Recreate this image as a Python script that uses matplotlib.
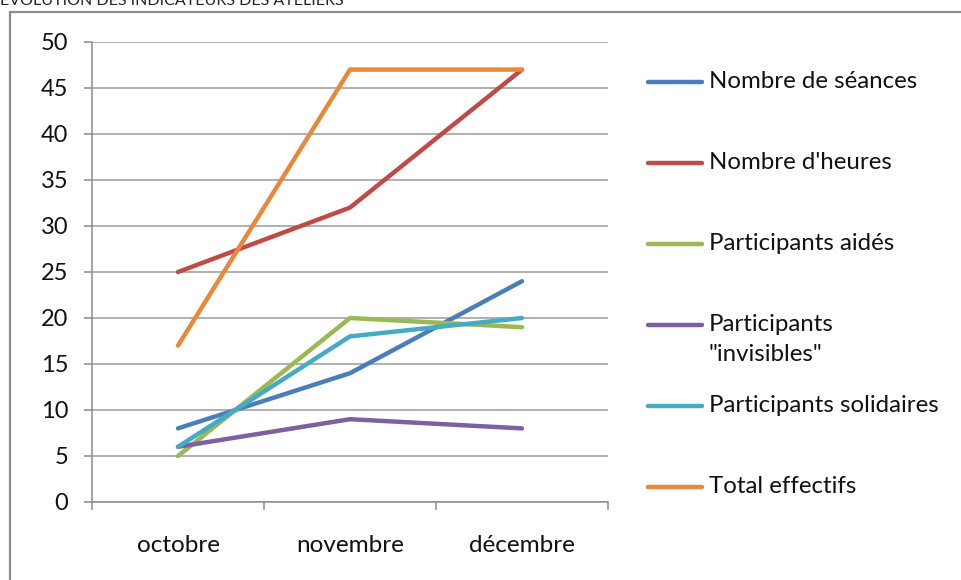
"""Évolution des indicateurs des ateliers - line chart by month."""

import matplotlib

matplotlib.use("Agg")
import matplotlib.pyplot as plt
from matplotlib.lines import Line2D
from matplotlib.patches import Rectangle

months = ["octobre", "novembre", "décembre"]
series_names = [
    "Nombre de séances",
    "Nombre d'heures",
    "Participants aidés",
    "Participants\n\"invisibles\"",
    "Participants solidaires",
    "Total effectifs",
]
seances = [8, 14, 24]
heures = [25, 32, 47]
aides = [5, 20, 19]
invisibles = [6, 9, 8]
solidaires = [6, 18, 20]
total = [17, 47, 47]
series_values = [seances, heures, aides, invisibles, solidaires, total]
colors = ["#4A7EBB", "#BE4B48", "#98B954", "#7D60A0", "#46AAC5", "#E8883A"]

W, H = 961, 580
plt.rcParams["font.family"] = ["Lato", "DejaVu Sans"]

fig = plt.figure(figsize=(W / 100, H / 100), dpi=100, facecolor="white")

# outer chart frame (cut by the screenshot on the right and bottom)
fig.patches.append(Rectangle((10 / W, -0.1), 1.2, 1.1 - 12 / H, transform=fig.transFigure,
                             fill=False, edgecolor="#8c8c8c", linewidth=1.6))
fig.text(0.0, 1 - 5 / H, "ÉVOLUTION DES INDICATEURS DES ATELIERS", fontsize=11.5,
         va="baseline", ha="left", color="#222222")

ax = fig.add_axes([92 / W, 1 - 502 / H, (608 - 92) / W, (502 - 42) / H])
x = range(len(months))
for vals, c in zip(series_values, colors):
    ax.plot(x, vals, color=c, linewidth=3.2, solid_capstyle="round", solid_joinstyle="round",
            zorder=3)

ax.set_xlim(-0.5, len(months) - 0.5)
ax.set_ylim(0, 50)
ax.set_yticks(range(0, 51, 5))
ax.yaxis.grid(True, color="#9a9a9a", linewidth=1.1)
ax.set_axisbelow(True)
ax.set_xticks([i - 0.5 for i in range(len(months) + 1)], minor=False)
ax.set_xticklabels([])
ax.set_xticks(list(x), minor=True)
ax.set_xticklabels(months, minor=True, fontsize=17.5)
ax.tick_params(axis="x", which="minor", length=0, pad=24, colors="#111111")
ax.tick_params(axis="x", which="major", length=6, color="#8c8c8c", width=1.1)
ax.tick_params(axis="y", length=6, color="#8c8c8c", width=1.1, labelsize=17, pad=11,
               labelcolor="#111111")
for side in ("top", "right"):
    ax.spines[side].set_visible(False)
for side in ("left", "bottom"):
    ax.spines[side].set_color("#8c8c8c")
    ax.spines[side].set_linewidth(1.1)

# legend drawn by hand to match the spacing of the original
for i, (name, c) in enumerate(zip(series_names, colors)):
    yc = 1 - (82 + 81 * i) / H
    fig.add_artist(Line2D([648 / W, 702 / W], [yc, yc], transform=fig.transFigure,
                          color=c, linewidth=3.2, solid_capstyle="round"))
    fig.text(709 / W, yc + 11 / H, name, fontsize=17.3, va="top", ha="left",
             color="#111111", linespacing=1.55)

fig.savefig("out.png", dpi=100, facecolor="white")
